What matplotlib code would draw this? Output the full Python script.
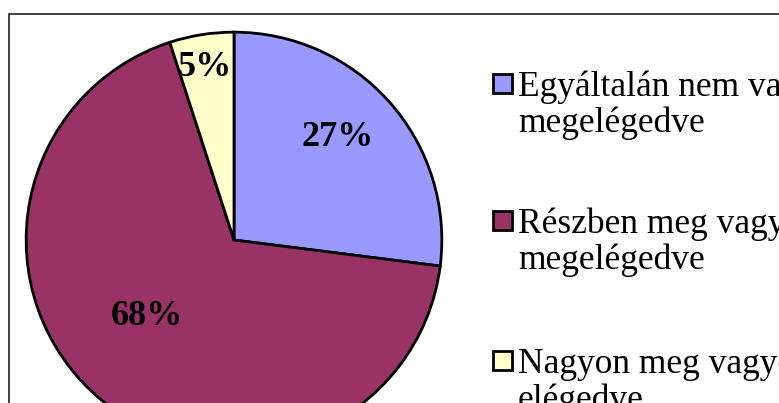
import numpy as np
import matplotlib
matplotlib.use("Agg")
import matplotlib.pyplot as plt
from matplotlib.patches import Rectangle

categories = ["Egyáltalán nem vagyok\nmegelégedve",
              "Részben meg vagyok\nmegelégedve",
              "Nagyon meg vagyok\nelégedve"]
values = [27, 68, 5]
colors = ["#9999FF", "#993366", "#FFFFCC"]

W, H = 779, 403
fig = plt.figure(figsize=(W / 100, H / 100), dpi=100)
fig.patch.set_facecolor("white")

# chart frame
fig.patches.append(Rectangle((9 / W, -0.1), 1.2, (H - 14) / H + 0.1,
                             transform=fig.transFigure, fill=False,
                             edgecolor="#222222", linewidth=1.2))

cx, cy, R = 234, 240, 212
ax = fig.add_axes([(cx - R) / W, (H - cy - R) / H, 2 * R / W, 2 * R / H])
wedges, _ = ax.pie(values, colors=colors, startangle=90, counterclock=False,
                   radius=1.0, wedgeprops=dict(edgecolor="black", linewidth=2.0))
ax.set_xlim(-1.02, 1.02)
ax.set_ylim(-1.02, 1.02)
ax.set_aspect("equal")
ax.axis("off")

label_r = [0.70, 0.56, 0.84]
label_dang = [3.3, -9.0, 0.6]
for w, v, r, da in zip(wedges, values, label_r, label_dang):
    ang = np.deg2rad((w.theta1 + w.theta2) / 2 + da)
    ax.text(r * np.cos(ang), r * np.sin(ang), f"{v}%", ha="center", va="center",
            fontsize=26, fontweight="bold", family="Liberation Serif", color="black")

# legend
entry_base = [96, 233, 373]
line_gap = 36
for lab, col, base in zip(categories, colors, entry_base):
    fig.patches.append(Rectangle((493 / W, (H - base + 3) / H), 19 / W, 19 / H,
                                 transform=fig.transFigure, facecolor=col,
                                 edgecolor="black", linewidth=2.0))
    for i, line in enumerate(lab.split("\n")):
        fig.text(518 / W, (H - base - i * line_gap) / H, line, ha="left",
                 va="baseline", fontsize=25.5, family="Liberation Serif",
                 color="black")

fig.savefig("out.png", dpi=100)
